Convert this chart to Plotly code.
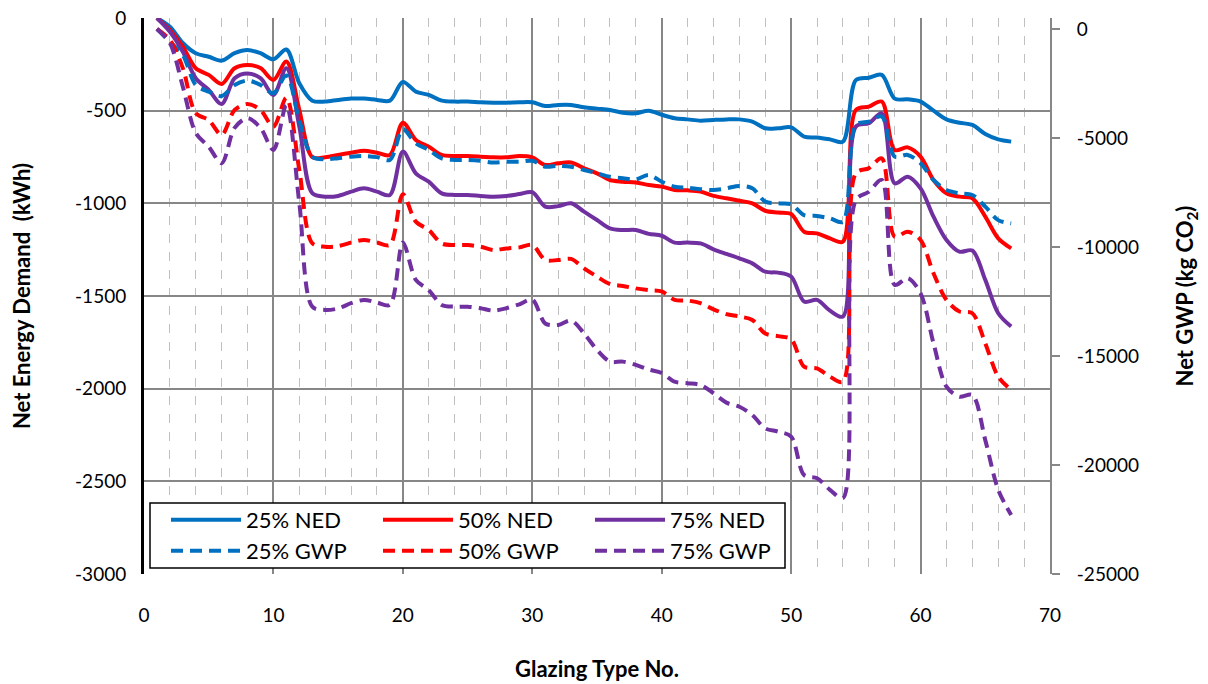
import plotly.graph_objects as go

glazing_type = list(range(1, 68))

ned_25 = [0, -47, -135, -190, -209, -230, -190, -173, -190, -223,
          -170, -352, -446, -451, -442, -435, -435, -442, -446, -345,
          -397, -415, -446, -451, -451, -455, -457, -457, -455, -455,
          -475, -469, -469, -482, -489, -496, -511, -514, -500, -522,
          -541, -547, -554, -550, -547, -547, -559, -595, -595, -590,
          -640, -645, -655, -667, -335, -322, -307, -435, -439, -451,
          -500, -547, -565, -577, -626, -655, -667]

ned_50 = [0, -65, -155, -271, -307, -356, -271, -254, -270, -334,
          -235, -496, -751, -751, -739, -727, -716, -727, -739, -565,
          -658, -694, -739, -745, -745, -748, -752, -752, -745, -752,
          -793, -784, -780, -811, -838, -874, -883, -888, -901, -910,
          -928, -930, -937, -960, -973, -986, -1000, -1040, -1050, -1058,
          -1153, -1162, -1189, -1207, -496, -478, -451, -712, -698, -748,
          -874, -946, -964, -973, -1072, -1189, -1243]

ned_75 = [0, -74, -182, -325, -388, -464, -325, -299, -325, -415,
          -271, -586, -945, -964, -960, -937, -919, -937, -955, -721,
          -838, -883, -946, -955, -955, -960, -964, -960, -950, -940,
          -1018, -1015, -1000, -1045, -1090, -1135, -1144, -1144, -1165, -1175,
          -1212, -1212, -1216, -1248, -1273, -1297, -1324, -1369, -1374, -1395,
          -1530, -1521, -1579, -1611, -586, -568, -514, -892, -856, -919,
          -1072, -1198, -1261, -1255, -1413, -1593, -1665]

gwp_25 = [0, -590, -1200, -2570, -2880, -3080, -2570, -2370, -2570, -2950,
          -2140, -4180, -5860, -5980, -5930, -5860, -5830, -5880, -6010, -4600,
          -5250, -5550, -5940, -6010, -6010, -6050, -6130, -6090, -6090, -6050,
          -6320, -6280, -6320, -6470, -6620, -6780, -6850, -6900, -6700, -7010,
          -7240, -7280, -7350, -7390, -7310, -7200, -7310, -7920, -8000, -8040,
          -8540, -8580, -8690, -8840, -4410, -4250, -4020, -5860, -5780, -6160,
          -6930, -7390, -7540, -7620, -8150, -8770, -8920]

gwp_50 = [0, -510, -1800, -3870, -4180, -4860, -3720, -3440, -3720, -4480,
          -3160, -6470, -9830, -9990, -9960, -9800, -9680, -9800, -9910, -7580,
          -8840, -9220, -9840, -9910, -9910, -9990, -10140, -10070, -10020, -9910,
          -10600, -10600, -10550, -10980, -11360, -11700, -11790, -11900, -11980, -12040,
          -12430, -12460, -12580, -12860, -13080, -13190, -13350, -13970, -14090, -14230,
          -15490, -15570, -15950, -16180, -6620, -6390, -5940, -9530, -9300, -9680,
          -11210, -12430, -12960, -13040, -14420, -15950, -16560]

gwp_75 = [0, -650, -2650, -4770, -5400, -6160, -4540, -4090, -4540, -5550,
          -3500, -7990, -12740, -12890, -12820, -12580, -12430, -12550, -12660, -9800,
          -11510, -11980, -12660, -12740, -12740, -12810, -12920, -12810, -12630, -12420,
          -13510, -13580, -13380, -13970, -14720, -15260, -15260, -15410, -15620, -15780,
          -16180, -16250, -16330, -16710, -17140, -17330, -17710, -18320, -18470, -18700,
          -20460, -20610, -21140, -21520, -7850, -7470, -6930, -11740, -11430, -12130,
          -14420, -16410, -16870, -16790, -18860, -21140, -22290]

x_ticks = [0, 10, 20, 30, 40, 50, 60, 70]
x_tick_labels = ["0", "10", "20", "30", "40", "50", "60", "70"]
ned_ticks = [0, -500, -1000, -1500, -2000, -2500, -3000]
ned_tick_labels = ["0", "-500", "-1000", "-1500", "-2000", "-2500", "-3000"]
gwp_ticks = [0, -5000, -10000, -15000, -20000, -25000]
gwp_tick_labels = ["0", "-5000", "-10000", "-15000", "-20000", "-25000"]

BLUE = "#0070C0"
RED = "#FF0000"
PURPLE = "#7030A0"
GRID = "#878787"
FONT = "Lato"

fig = go.Figure()

ned_series = [("25% NED", ned_25, BLUE), ("50% NED", ned_50, RED), ("75% NED", ned_75, PURPLE)]
gwp_series = [("25% GWP", gwp_25, BLUE), ("50% GWP", gwp_50, RED), ("75% GWP", gwp_75, PURPLE)]

for name, vals, col in ned_series:
    fig.add_trace(go.Scatter(x=glazing_type, y=vals, name=name, mode="lines",
                             line=dict(color=col, width=4, shape="spline", smoothing=0.9),
                             legend="legend"))
for name, vals, col in gwp_series:
    fig.add_trace(go.Scatter(x=glazing_type, y=vals, name=name, mode="lines", yaxis="y2",
                             line=dict(color=col, width=4, shape="spline", smoothing=0.9,
                                       dash="12px,7px"),
                             legend="legend2"))

legend_common = dict(orientation="h", xanchor="left", yanchor="middle",
                     entrywidth=127, entrywidthmode="pixels", itemwidth=70,
                     bgcolor="rgba(0,0,0,0)", font=dict(size=22), traceorder="normal")

fig.update_layout(
    width=1208, height=684,
    margin=dict(l=144, r=158, t=18, b=110, autoexpand=False),
    paper_bgcolor="white", plot_bgcolor="white",
    font=dict(family=FONT, size=19, color="black"),
    xaxis=dict(range=[0, 70], tickvals=x_ticks, ticktext=x_tick_labels,
               showgrid=True, gridcolor=GRID, gridwidth=2,
               minor=dict(dtick=2, tick0=0, showgrid=True, gridcolor="#C0C0C0",
                          griddash="dash", gridwidth=1),
               showline=False, zeroline=False, ticks="", ticklabelstandoff=28,
               automargin=False,
               title=dict(text="<b>Glazing Type No.</b>", standoff=36,
                          font=dict(size=22))),
    xaxis2=dict(range=[0, 70], overlaying="x", side="top", anchor="y",
                tickvals=x_ticks, showticklabels=False, showgrid=False,
                showline=True, linecolor="black", linewidth=3,
                ticks="inside", ticklen=7, tickwidth=2, tickcolor="black",
                zeroline=False, automargin=False),
    yaxis=dict(range=[-3000, 0], tickvals=ned_ticks, ticktext=ned_tick_labels,
               showgrid=True, gridcolor=GRID, gridwidth=2, zeroline=False,
               showline=True, linecolor="black", linewidth=3, ticks="",
               ticklabelstandoff=11, automargin=False,
               title=dict(text="<b>Net Energy Demand  (kWh)</b>", standoff=39,
                          font=dict(size=22))),
    yaxis2=dict(range=[-25000, 500], overlaying="y", side="right",
                tickvals=gwp_ticks, ticktext=gwp_tick_labels,
                showgrid=False, zeroline=False,
                showline=True, linecolor=GRID, linewidth=2,
                ticks="outside", ticklen=8, tickwidth=2, tickcolor=GRID,
                ticklabelstandoff=13, automargin=False,
                title=dict(text="<b>Net GWP (kg CO<sub>2</sub>)</b>", standoff=40,
                           font=dict(size=22))),
    legend=dict(x=(166 - 144) / 906, y=(574 - 520) / 556, **legend_common),
    legend2=dict(x=(166 - 144) / 906, y=(574 - 551) / 556, **legend_common),
    shapes=[dict(type="rect", xref="paper", yref="paper",
                 x0=(150 - 144) / 906, x1=(785 - 144) / 906,
                 y0=(574 - 568) / 556, y1=(574 - 503) / 556,
                 fillcolor="white", line=dict(color="black", width=1.5),
                 layer="above")],
)

fig.write_html("out.html")
